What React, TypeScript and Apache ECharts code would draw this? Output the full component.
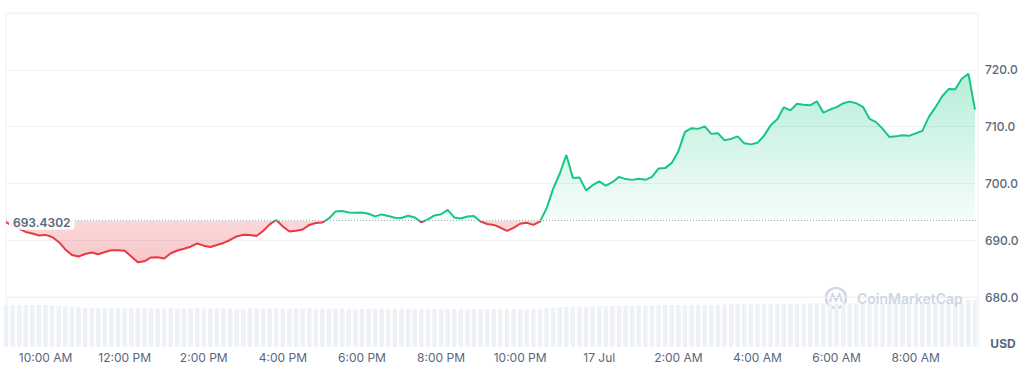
import React, { useEffect, useRef } from "react";
import * as echarts from "echarts";

// 16 Jul 09:00 onwards, one sample every 10 minutes
const START_HOUR = 9;
const STEP_MIN = 10;

const prices = [
  693.16, 692.51, 691.98, 691.45, 691.19, 690.84, 690.93, 690.57, 689.69, 688.37,
  687.40, 687.14, 687.58, 687.84, 687.52, 687.93, 688.23, 688.25, 688.16, 687.14,
  686.11, 686.29, 686.96, 686.98, 686.78, 687.70, 688.19, 688.49, 688.86, 689.43,
  689.04, 688.81, 689.16, 689.52, 690.04, 690.66, 690.96, 690.93, 690.75, 691.63,
  692.78, 693.55, 692.42, 691.54, 691.67, 691.89, 692.69, 693.04, 693.13, 693.83,
  695.07, 695.15, 694.89, 694.84, 694.89, 694.66, 694.19, 694.54, 694.27, 693.96,
  693.92, 694.31, 694.01, 693.16, 693.66, 694.36, 694.57, 695.33, 694.01, 693.83,
  694.17, 694.24, 693.30, 692.86, 692.69, 692.23, 691.63, 692.16, 692.90, 693.06,
  692.69, 693.27, 695.59, 699.03, 701.70, 705.00, 700.97, 701.06, 698.77, 699.68,
  700.35, 699.59, 700.21, 701.15, 700.76, 700.62, 700.83, 700.63, 701.15, 702.64,
  702.69, 703.61, 705.64, 709.08, 709.73, 709.60, 710.04, 708.72, 708.85, 707.58,
  707.84, 708.28, 707.05, 706.87, 707.14, 708.41, 710.22, 711.28, 713.39, 712.86,
  714.01, 713.83, 713.74, 714.45, 712.46, 713.00, 713.43, 714.10, 714.40, 714.10,
  713.48, 711.37, 710.78, 709.60, 708.19, 708.28, 708.46, 708.37, 708.81, 709.25,
  711.72, 713.39, 715.30, 716.60, 716.56, 718.41, 719.30, 713.00,
];

const volumes = [
  42.0, 42.0, 42.2, 42.0, 41.8, 42.0, 41.9, 41.6, 41.2, 40.8,
  40.3, 39.8, 39.4, 39.1, 38.9, 38.8, 38.7, 38.8, 38.6, 38.7,
  38.5, 38.6, 38.6, 38.4, 38.5, 38.6, 38.5, 38.4, 38.5, 38.6,
  38.5, 38.4, 38.5, 38.6, 38.4, 38.3, 38.4, 38.5, 38.4, 38.3,
  38.5, 38.6, 38.4, 38.3, 38.2, 38.4, 38.5, 38.3, 38.2, 38.3,
  38.2, 38.3, 38.4, 38.2, 38.1, 38.3, 38.2, 38.2, 38.1, 38.3,
  38.2, 38.1, 38.2, 38.3, 38.1, 38.0, 38.2, 38.1, 38.0, 38.1,
  38.0, 38.1, 38.0, 37.9, 38.0, 37.9, 37.8, 37.9, 37.8, 37.7,
  37.8, 38.0, 38.6, 39.3, 39.8, 40.1, 40.3, 40.4, 40.5, 40.6,
  40.8, 40.9, 41.0, 41.1, 41.2, 41.3, 41.4, 41.5, 41.6, 41.7,
  41.8, 41.9, 42.0, 42.1, 42.2, 42.2, 42.3, 42.4, 42.4, 42.5,
  42.6, 42.6, 42.7, 42.8, 42.9, 43.0, 43.1, 43.2, 43.3, 43.3,
  43.4, 43.4, 43.5, 43.5, 43.6, 43.6, 43.6, 43.7, 43.7, 43.7,
  43.8, 43.8, 43.7, 43.8, 43.8, 43.9, 43.8, 43.9, 43.9, 43.8,
  43.9, 43.9, 43.8, 43.9, 43.9, 43.8, 47.0, 47.0,
];

const openPrice = 693.4302;
const yMin = 680;
const yMax = 730;
const yStep = 10;
const xTickHours = [10, 12, 14, 16, 18, 20, 22, 24, 26, 28, 30, 32];
const xTickLabels = [
  "10:00 AM", "12:00 PM", "2:00 PM", "4:00 PM", "6:00 PM", "8:00 PM",
  "10:00 PM", "17 Jul", "2:00 AM", "4:00 AM", "6:00 AM", "8:00 AM",
];

const GREEN = "#16c784";
const RED = "#ea3943";
const LABEL = "#58667e";
const GRID = "#eff2f5";
const WATERMARK = "#cfd6e2";
const FONT = "Inter, 'Noto Sans', sans-serif";

export default function App() {
  const ref = useRef<HTMLDivElement>(null);

  useEffect(() => {
    document.body.style.margin = "0";
    if (!ref.current) return;
    const chart = echarts.init(ref.current, undefined, { renderer: "svg" });

    const times = prices.map((_, i) => START_HOUR + (i * STEP_MIN) / 60);
    const lastPrice = prices[prices.length - 1];
    const xMin = START_HOUR;
    const xMax = times[times.length - 1] + 0.076;

    // pixel-space gradient: green above opening price, red below
    const gTop = 13;
    const gBottom = 297;
    const baseFrac = (yMax - openPrice) / (yMax - yMin);
    const areaColor = new echarts.graphic.LinearGradient(
      0, gTop, 0, gBottom,
      [
        { offset: 0, color: "rgba(22,199,132,0.42)" },
        { offset: baseFrac, color: "rgba(22,199,132,0.04)" },
        { offset: baseFrac, color: "rgba(234,57,67,0.2)" },
        { offset: 0.9, color: "rgba(234,57,67,0.3)" },
        { offset: 1, color: "rgba(234,57,67,0.32)" },
      ],
      true
    );

    const labelByHour: Record<number, string> = {};
    xTickHours.forEach((h, i) => (labelByHour[h] = xTickLabels[i]));

    chart.setOption({
      animation: false,
      textStyle: { fontFamily: FONT },
      grid: [
        { left: 6, right: 46, top: 13, bottom: 69, show: true, borderColor: GRID, borderWidth: 1 },
        { left: 6, right: 46, top: 300, bottom: 19 },
      ],
      xAxis: [
        { type: "value", gridIndex: 0, min: xMin, max: xMax, show: false },
        {
          type: "value",
          gridIndex: 1,
          min: xMin,
          max: xMax,
          axisLine: { show: false },
          axisTick: { show: false },
          splitLine: { show: false },
          axisLabel: {
            customValues: xTickHours,
            formatter: (v: number) => labelByHour[Math.round(v)] ?? "",
            color: LABEL,
            fontSize: 12,
            fontFamily: FONT,
            margin: 4,
          },
        },
      ],
      yAxis: [
        {
          type: "value",
          gridIndex: 0,
          position: "right",
          min: yMin,
          max: yMax,
          interval: yStep,
          axisLine: { show: false },
          axisTick: { show: false },
          splitLine: { lineStyle: { color: GRID, width: 1 } },
          axisLabel: {
            formatter: (v: number) => (v >= yMax ? "" : v.toFixed(1)),
            color: LABEL,
            fontSize: 12,
            fontWeight: 500,
            fontFamily: FONT,
            margin: 7,
          },
        },
        { type: "value", gridIndex: 1, min: 0, max: 47, show: false },
      ],
      visualMap: {
        type: "piecewise",
        show: false,
        seriesIndex: 0,
        dimension: 1,
        pieces: [
          { gte: 0, lt: openPrice, color: RED },
          { gte: openPrice, lte: 100000, color: GREEN },
        ],
      },
      series: [
        {
          type: "line",
          xAxisIndex: 0,
          yAxisIndex: 0,
          data: times.map((t, i) => [t, prices[i]]),
          showSymbol: false,
          symbol: "none",
          lineStyle: { width: 2 },
          areaStyle: { origin: openPrice, color: areaColor, opacity: 1 },
          z: 3,
          markLine: {
            silent: true,
            symbol: ["none", "none"],
            animation: false,
            data: [
              {
                yAxis: openPrice,
                lineStyle: { type: [1, 2], color: "#a1a9b8", width: 1 },
                label: {
                  show: true,
                  position: "insideStartTop",
                  distance: 0,
                  offset: [3, 9],
                  formatter: openPrice.toFixed(4),
                  color: LABEL,
                  fontSize: 12,
                  fontWeight: 600,
                  fontFamily: FONT,
                  backgroundColor: "rgba(255,255,255,0.92)",
                  borderRadius: 4,
                  padding: [1, 4, 1, 4],
                },
              },
              {
                yAxis: lastPrice,
                lineStyle: { opacity: 0 },
                label: {
                  show: true,
                  position: "end",
                  distance: 0,
                  formatter: lastPrice.toFixed(1),
                  color: "#ffffff",
                  fontSize: 12,
                  fontWeight: 600,
                  fontFamily: FONT,
                  backgroundColor: GREEN,
                  borderRadius: 4,
                  padding: [6, 10, 6, 6],
                },
              },
            ],
          },
        },
        {
          type: "bar",
          xAxisIndex: 1,
          yAxisIndex: 1,
          data: times.map((t, i) => [t, volumes[i]]),
          barWidth: 4.5,
          itemStyle: { color: "#eef1f5" },
          silent: true,
        },
      ],
      graphic: [
        { type: "line", shape: { x1: 6.5, y1: 297, x2: 6.5, y2: 347 }, style: { stroke: GRID, lineWidth: 1 } },
        { type: "line", shape: { x1: 978.5, y1: 297, x2: 978.5, y2: 347 }, style: { stroke: GRID, lineWidth: 1 } },
        {
          type: "text",
          x: 1003,
          y: 343,
          style: { text: "USD", fill: LABEL, font: `700 12px ${FONT}`, align: "center", verticalAlign: "middle" },
        },
        {
          type: "group",
          x: 836,
          y: 298,
          z: 10,
          children: [
            { type: "circle", shape: { cx: 0, cy: 0, r: 10 }, style: { fill: "none", stroke: WATERMARK, lineWidth: 2.4 } },
            {
              type: "polyline",
              shape: { points: [[-6, 4], [-3.5, -3.5], [0, 2.5], [3.5, -3.5], [6, 4]] },
              style: { fill: "none", stroke: WATERMARK, lineWidth: 2.2 },
            },
          ],
        },
        {
          type: "text",
          x: 857,
          y: 298,
          z: 10,
          style: { text: "CoinMarketCap", fill: WATERMARK, font: `600 14px ${FONT}`, verticalAlign: "middle" },
        },
      ],
    });

    return () => chart.dispose();
  }, []);

  return <div ref={ref} style={{ width: 1024, height: 366 }} />;
}
